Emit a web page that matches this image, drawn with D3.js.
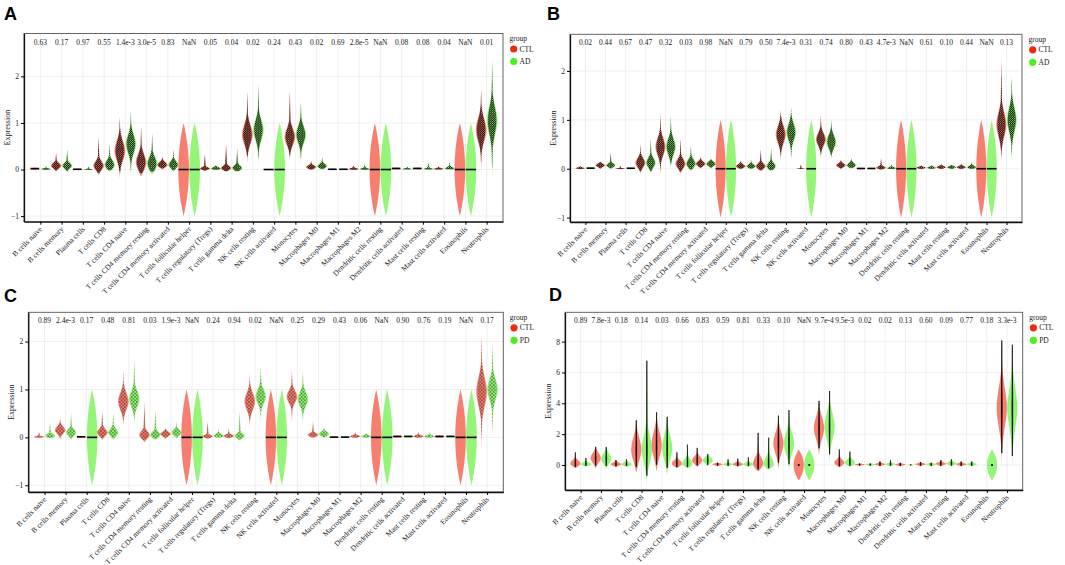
<!DOCTYPE html>
<html>
<head>
<meta charset="utf-8">
<script src="https://cdn.jsdelivr.net/npm/d3@7"></script>
<style>
  body { margin: 0; background: #fff; }
  text { font-family: "Liberation Serif", "DejaVu Serif", serif; fill: #222; }
  .tag { font-family: "Liberation Sans", Arial, sans-serif; font-weight: bold; fill: #000; }
</style>
</head>
<body>
<svg id="chart" width="1065" height="565"></svg>
<script>
const cells = ["B cells naive", "B cells memory", "Plasma cells", "T cells CD8", "T cells CD4 naive",
  "T cells CD4 memory resting", "T cells CD4 memory activated", "T cells follicular helper",
  "T cells regulatory (Tregs)", "T cells gamma delta", "NK cells resting", "NK cells activated",
  "Monocytes", "Macrophages M0", "Macrophages M1", "Macrophages M2", "Dendritic cells resting",
  "Dendritic cells activated", "Mast cells resting", "Mast cells activated", "Eosinophils", "Neutrophils"];

// violin = [low end, mode, high end, spread]; Z = all values zero, L = zero bar only
const Z = "zero", L = "line";

const pA = ["0.63","0.17","0.97","0.55","1.4e-3","3.0e-5","0.83","NaN","0.05","0.04","0.02","0.24","0.43","0.02","0.69","2.8e-5","NaN","0.08","0.08","0.04","NaN","0.01"];
const ctlA = [[-0.01,0.01,0.05,0.015],[-0.05,0.08,0.38,0.06],[-0.01,0,0.02,0.01],[-0.12,0.08,0.75,0.1],[-0.2,0.4,1.17,0.22],
  [-0.15,0.15,0.97,0.18],[0,0.1,0.3,0.06],Z,[-0.03,0.02,0.35,0.03],[-0.05,0.03,0.58,0.05],[0.13,0.75,1.73,0.22],L,
  [0.15,0.7,1.75,0.18],[-0.01,0.05,0.2,0.04],[-0.01,0,0.02,0.01],[-0.01,0.01,0.1,0.02],Z,[0,0.01,0.05,0.015],
  [0,0.01,0.05,0.015],[0,0.01,0.08,0.02],Z,[-0.07,0.85,1.8,0.25]];
const adA = [[-0.01,0.01,0.08,0.015],[-0.07,0.08,0.45,0.06],[-0.01,0,0.07,0.01],[-0.05,0.1,0.58,0.1],[-0.2,0.55,1.3,0.2],
  [-0.1,0.12,0.82,0.15],[-0.05,0.1,0.45,0.08],Z,[-0.01,0.02,0.1,0.03],[-0.05,0.03,0.48,0.06],[0.05,0.85,1.88,0.22],Z,
  [0.08,0.75,1.5,0.18],[0,0.07,0.28,0.05],[-0.01,0,0.02,0.01],[-0.01,0.01,0.13,0.02],Z,[0,0.01,0.07,0.015],
  [0,0.01,0.17,0.02],[0,0.02,0.18,0.03],Z,[-0.3,1.05,2.45,0.3]];

const pB = ["0.02","0.44","0.67","0.47","0.32","0.03","0.98","NaN","0.79","0.50","7.4e-3","0.31","0.74","0.80","0.43","4.7e-3","NaN","0.61","0.10","0.44","NaN","0.13"];
const ctlB = [[-0.01,0.01,0.07,0.015],[-0.01,0.07,0.15,0.035],[-0.01,0,0.07,0.01],[-0.1,0.12,0.52,0.1],[-0.18,0.45,1.17,0.18],
  [-0.1,0.1,0.65,0.1],[0,0.1,0.25,0.05],Z,[-0.01,0.05,0.18,0.04],[-0.05,0.05,0.42,0.06],[0.1,0.7,1.23,0.18],[-0.01,0,0.1,0.005],
  [0.17,0.6,1.13,0.13],[-0.01,0.07,0.2,0.04],[-0.01,0,0.02,0.01],[-0.02,0.02,0.23,0.03],Z,[-0.01,0.02,0.07,0.02],
  [-0.01,0.03,0.1,0.025],[-0.01,0.03,0.12,0.025],Z,[0.07,0.9,2.3,0.25]];
const adB = [[-0.01,0.01,0.03,0.012],[-0.01,0.07,0.35,0.04],[-0.01,0,0.03,0.01],[-0.1,0.12,0.65,0.1],[-0.03,0.45,1.12,0.17],
  [-0.05,0.1,0.5,0.09],[0,0.1,0.2,0.05],Z,[-0.01,0.05,0.2,0.04],[-0.05,0.05,0.45,0.07],[0.1,0.75,1.3,0.17],Z,
  [0.18,0.55,1.05,0.14],[0,0.07,0.23,0.05],[-0.01,0,0.02,0.01],[-0.01,0.01,0.1,0.02],Z,[-0.01,0.02,0.08,0.02],
  [-0.01,0.03,0.08,0.025],[-0.01,0.03,0.15,0.03],Z,[0.07,1.0,1.97,0.25]];

const pC = ["0.89","2.4e-3","0.17","0.48","0.81","0.03","1.9e-3","NaN","0.24","0.94","0.02","NaN","0.25","0.29","0.43","0.06","NaN","0.90","0.76","0.19","NaN","0.17"];
const ctlC = [[-0.01,0.01,0.13,0.015],[-0.05,0.15,0.43,0.08],[-0.005,0,0.03,0.005],[-0.05,0.1,0.58,0.08],[0.22,0.75,1.43,0.18],
  [-0.1,0.05,0.78,0.08],[-0.03,0.07,0.2,0.05],Z,[-0.03,0.02,0.35,0.03],[-0.02,0.03,0.2,0.03],[0.2,0.75,1.37,0.18],Z,
  [0.3,0.85,1.43,0.13],[-0.01,0.05,0.35,0.04],[-0.01,0,0.02,0.01],[-0.01,0.02,0.12,0.025],Z,[-0.01,0.01,0.05,0.015],
  [-0.01,0.02,0.12,0.025],[-0.01,0.01,0.05,0.015],Z,[-0.28,0.95,2.2,0.3]];
const pdC = [[-0.02,0.03,0.33,0.04],[-0.05,0.1,0.53,0.07],Z,[-0.05,0.1,0.53,0.08],[0.2,0.8,1.7,0.17],
  [-0.05,0.05,0.62,0.07],[-0.03,0.1,0.35,0.06],Z,[-0.01,0.03,0.2,0.04],[-0.07,0.03,0.58,0.05],[0.3,0.85,1.53,0.15],Z,
  [0.25,0.8,1.43,0.15],[-0.01,0.07,0.2,0.05],[-0.01,0,0.02,0.01],[-0.01,0.02,0.1,0.025],Z,[-0.01,0.01,0.05,0.015],
  [-0.01,0.02,0.12,0.025],[-0.01,0.01,0.05,0.015],Z,[-0.05,1.0,2.05,0.22]];

const pD = ["0.89","7.8e-3","0.18","0.14","0.03","0.66","0.83","0.59","0.81","0.33","0.10","NaN","9.7e-4","9.5e-3","0.02","0.02","0.13","0.60","0.09","0.77","0.18","3.3e-3"];
const ctlD = [[-0.2,0.1,0.9,0.2],[-0.2,0.45,1.25,0.35],[-0.12,0.05,0.35,0.12],[-0.5,1.0,3.1,0.8],[-0.4,1.3,3.65,0.85],
  [-0.2,0.1,0.9,0.2],[-0.12,0.3,1.2,0.25],[-0.08,0.05,0.15,0.07],[-0.1,0.05,0.45,0.1],[-0.4,0.1,2.3,0.4],[-0.25,1.4,3.4,0.7],Z,
  [0.65,2.4,4.35,0.75],[-0.15,0.15,1.1,0.2],[-0.05,0.03,0.1,0.05],[-0.08,0.05,0.25,0.07],[-0.08,0.03,0.15,0.06],[-0.08,0.05,0.2,0.07],
  [-0.08,0.08,0.35,0.09],[-0.08,0.05,0.25,0.07],null,[-0.2,3.7,8.55,1.3]];
const pdD = [[-0.08,0.05,0.5,0.12],[-0.2,0.4,1.25,0.35],[-0.1,0.05,0.4,0.12],[-1.25,1.0,7.4,0.9],[-0.6,1.1,3.35,0.85],
  [-0.2,0.1,1.45,0.28],[-0.08,0.3,0.75,0.2],[-0.08,0.05,0.4,0.07],[-0.1,0.05,0.55,0.1],[-0.3,0.1,1.95,0.38],[-0.4,1.4,3.8,0.7],Z,
  [0.1,2.5,5.05,0.85],[-0.1,0.15,0.95,0.2],[-0.05,0.03,0.1,0.05],[-0.08,0.05,0.35,0.07],[-0.02,0.01,0.03,0.02],[-0.08,0.05,0.15,0.07],
  [-0.08,0.1,0.4,0.1],[-0.08,0.05,0.25,0.07],Z,[-0.45,3.7,8.25,1.3]];

const panels = [
  {tag: "A", x0: 24, x1: 503, y0: 33.5, y1: 221.7, dom: [-1.12, 2.92], ticks: [-1, 0, 1, 2], p: pA, ctl: ctlA, dis: adA, disName: "AD", dots: "dense", tagX: 4, tagY: 19.5},
  {tag: "B", x0: 570, x1: 1022, y0: 34.3, y1: 222, dom: [-1.09, 2.75], ticks: [-1, 0, 1, 2], p: pB, ctl: ctlB, dis: adB, disName: "AD", dots: "dense", tagX: 547, tagY: 19.5},
  {tag: "C", x0: 28.3, x1: 503.3, y0: 312.3, y1: 492, dom: [-1.14, 2.61], ticks: [-1, 0, 1, 2], p: pC, ctl: ctlC, dis: pdC, disName: "PD", dots: "sparse", tagX: 4, tagY: 302},
  {tag: "D", x0: 565, x1: 1022.7, y0: 312.3, y1: 490, dom: [-1.62, 9.9], ticks: [0, 2, 4, 6, 8], p: pD, ctl: ctlD, dis: pdD, disName: "PD", dots: "line", tagX: 549, tagY: 301}
];

const RED = "#f02a10", GREEN = "#4fee1e";
const svg = d3.select("#chart");

const defs = svg.append("defs");
const dense = defs.append("pattern").attr("id", "dense").attr("patternUnits", "userSpaceOnUse")
  .attr("width", 2.2).attr("height", 2.2);
dense.append("circle").attr("cx", 0.55).attr("cy", 0.55).attr("r", 0.72).attr("fill", "#000");
dense.append("circle").attr("cx", 1.65).attr("cy", 1.65).attr("r", 0.72).attr("fill", "#000");
const sparse = defs.append("pattern").attr("id", "sparse").attr("patternUnits", "userSpaceOnUse")
  .attr("width", 3.4).attr("height", 3.4);
sparse.append("circle").attr("cx", 0.8).attr("cy", 0.8).attr("r", 0.65).attr("fill", "#000");
sparse.append("circle").attr("cx", 2.5).attr("cy", 2.5).attr("r", 0.65).attr("fill", "#000");

// outline of one violin, sampled between its two ends
function profile(v, W, from, to) {
  const [lo, mode, hi, sd] = v;
  return d3.range(61).map(i => {
    const val = from + (to - from) * i / 60;
    const t = val < mode ? (mode - val) / ((mode - lo) || 1) : (val - mode) / ((hi - mode) || 1);
    const gz = Math.exp(-0.5 * ((val - mode) / sd) ** 2);
    const w = W * Math.max(gz, 0.22 * (1 - t)) * Math.sqrt(Math.max(0, 1 - t * t));
    return {val, w};
  });
}

function zeroProfile(W) {
  return d3.range(61).map(i => {
    const val = -1 + 2 * i / 60;
    return {val, w: W * (1 - val * val)};
  });
}

function drawPanel(cfg) {
  const g = svg.append("g");
  const x = d3.scalePoint().domain(cells).range([cfg.x0, cfg.x1]).padding(0.77);
  const y = d3.scaleLinear().domain(cfg.dom).range([cfg.y1, cfg.y0]);
  const step = x.step();
  const W = step * 0.25, off = step * 0.26;

  // grid
  g.selectAll(".vgrid").data(cells).join("line").attr("class", "vgrid")
    .attr("x1", d => x(d)).attr("x2", d => x(d)).attr("y1", cfg.y0).attr("y2", cfg.y1)
    .attr("stroke", "#e6e6e6").attr("stroke-width", 0.6);
  g.selectAll(".hgrid").data(cfg.ticks).join("line").attr("class", "hgrid")
    .attr("x1", cfg.x0).attr("x2", cfg.x1).attr("y1", d => y(d)).attr("y2", d => y(d))
    .attr("stroke", "#e6e6e6").attr("stroke-width", 0.6);

  const series = [
    {vals: cfg.ctl, dx: -off, color: RED},
    {vals: cfg.dis, dx: off, color: GREEN}
  ];

  series.forEach(s => {
    s.vals.forEach((v, i) => {
      if (v === null) return;
      const cx = x(cells[i]) + s.dx;
      const area = d3.area().x0(d => cx - d.w).x1(d => cx + d.w).y(d => y(d.val));

      if (v === Z || v === L) {
        if (v === Z) {
          g.append("path").attr("d", area(zeroProfile(W))).attr("fill", s.color).attr("fill-opacity", 0.6);
        }
        if (cfg.dots === "line") {
          g.append("circle").attr("cx", cx).attr("cy", y(0)).attr("r", 1.1).attr("fill", "#000");
        } else {
          g.append("rect").attr("x", cx - W * 0.95).attr("y", y(0) - 0.8)
            .attr("width", W * 1.9).attr("height", 1.6).attr("fill", "#000");
        }
        return;
      }

      const [lo, mode, hi] = v;
      g.append("path").attr("d", area(profile(v, W, lo, hi)))
        .attr("fill", s.color).attr("fill-opacity", 0.6);

      // jittered points
      const pLo = mode - 0.75 * (mode - lo), pHi = mode + 0.9 * (hi - mode);
      const f = cfg.dots === "line" ? 0.08 : 0.8;
      const inner = d3.area().x0(d => cx - d.w * f).x1(d => cx + d.w * f).y(d => y(d.val));
      const hPx = y(pLo) - y(pHi);
      if (hPx < 2.5 && cfg.dots !== "line") {
        g.append("rect").attr("x", cx - W * f).attr("y", (y(pLo) + y(pHi)) / 2 - 0.8)
          .attr("width", 2 * W * f).attr("height", 1.6).attr("fill", "#000");
      } else if (cfg.dots === "line") {
        g.append("path").attr("d", inner(profile(v, W, pLo, pHi)))
          .attr("fill", "#000").attr("stroke", "#000").attr("stroke-width", 0.7);
      } else {
        g.append("path").attr("d", inner(profile(v, W, pLo, pHi)))
          .attr("fill", `url(#${cfg.dots})`);
      }
    });
  });

  // frame
  g.append("rect").attr("x", cfg.x0).attr("y", cfg.y0)
    .attr("width", cfg.x1 - cfg.x0).attr("height", cfg.y1 - cfg.y0)
    .attr("fill", "none").attr("stroke", "#555").attr("stroke-width", 0.9);

  const yAxis = g.append("g").attr("transform", `translate(${cfg.x0},0)`)
    .call(d3.axisLeft(y).tickValues(cfg.ticks).tickFormat(d3.format("d"))
      .tickSize(3).tickSizeOuter(0).tickPadding(2));
  yAxis.attr("font-family", null);
  yAxis.select(".domain").attr("stroke", "#111").attr("stroke-width", 1.3);
  yAxis.selectAll("text").style("font-family", "'Liberation Serif', serif").style("font-size", "7.5px").attr("fill", "#222");

  const xAxis = g.append("g").attr("transform", `translate(0,${cfg.y1})`)
    .call(d3.axisBottom(x).tickSize(3).tickSizeOuter(0));
  xAxis.attr("font-family", null);
  xAxis.select(".domain").attr("stroke", "#111").attr("stroke-width", 1.3);
  xAxis.selectAll("text")
    .attr("y", 0).attr("dy", "0.35em")
    .attr("transform", "translate(0,6) rotate(-45)")
    .style("text-anchor", "end")
    .style("font-family", "'Liberation Serif', serif").style("font-size", "7.5px").attr("fill", "#222");

  g.append("text")
    .attr("transform", `translate(${cfg.x0 - 14},${(cfg.y0 + cfg.y1) / 2}) rotate(-90)`)
    .attr("text-anchor", "middle").style("font-size", "8px").text("Expression");

  // p-values
  g.selectAll(".pval").data(cfg.p).join("text").attr("class", "pval")
    .attr("x", (d, i) => x(cells[i])).attr("y", cfg.y0 + 11)
    .attr("text-anchor", "middle").style("font-size", "7.5px").text(d => d);

  // legend
  const lg = g.append("g").attr("transform", `translate(${cfg.x1 + 6.5},${cfg.y0})`);
  lg.append("text").attr("x", 0).attr("y", 7.5).style("font-size", "7.5px").text("group");
  [["CTL", RED], [cfg.disName, GREEN]].forEach((d, i) => {
    lg.append("circle").attr("cx", 4.2).attr("cy", 15.5 + i * 12.5).attr("r", 3.6).attr("fill", d[1]);
    lg.append("text").attr("x", 10).attr("y", 18 + i * 12.5).style("font-size", "7.5px").text(d[0]);
  });

  svg.append("text").attr("class", "tag").attr("x", cfg.tagX).attr("y", cfg.tagY)
    .style("font-size", "18px").text(cfg.tag);
}

panels.forEach(drawPanel);
</script>
</body>
</html>
